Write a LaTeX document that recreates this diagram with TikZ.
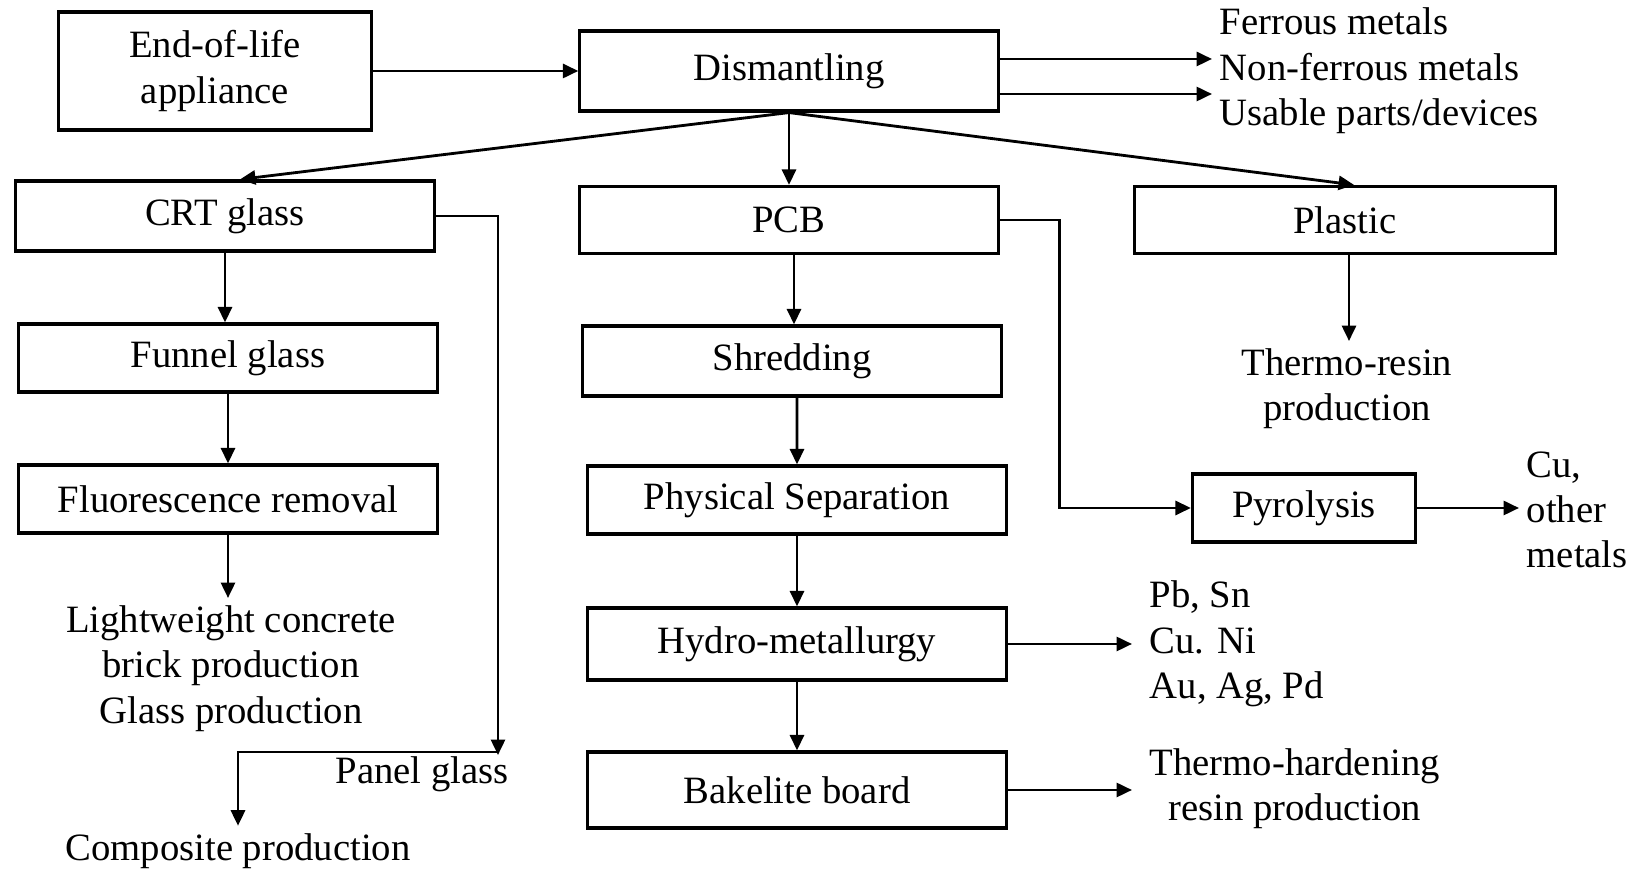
\documentclass[tikz,border=0pt]{standalone}
\usepackage{fontspec}
\setmainfont{Liberation Serif}
\usetikzlibrary{arrows.meta}
\begin{document}
\begin{tikzpicture}[x=0.01cm, y=-0.01cm,
        box/.style={rectangle, draw=black, line width=0.9pt, inner sep=2pt, align=center, font=\fontsize{11}{12.9}\selectfont},
        txt/.style={inner sep=2pt, font=\fontsize{11}{12.9}\selectfont},
        flow/.style={-{Triangle[length=4.4pt, width=4pt]}, line width=0.8pt},]

        \useasboundingbox (0,0) rectangle (1633,871);

        % Boxes
        \node[box, minimum width=3.13cm, minimum height=1.18cm] (eol) at (215,71) {End-of-life\\appliance};
        \node[box, minimum width=4.18cm, minimum height=0.80cm] (dism) at (789,71) {Dismantling};
        \node[box, minimum width=4.19cm, minimum height=0.70cm] (crt) at (225,216) {CRT glass};
        \node[box, minimum width=4.18cm, minimum height=0.67cm] (pcb) at (789,220) {PCB};
        \node[box, minimum width=4.20cm, minimum height=0.67cm] (plastic) at (1345,220) {Plastic};
        \node[box, minimum width=4.18cm, minimum height=0.68cm] (funnel) at (228,358) {Funnel glass};
        \node[box, minimum width=4.19cm, minimum height=0.70cm] (shred) at (792,361) {Shredding};
        \node[box, minimum width=4.18cm, minimum height=0.68cm] (fluor) at (228,499) {Fluorescence removal};
        \node[box, minimum width=4.19cm, minimum height=0.68cm] (phys) at (797,500) {Physical Separation};
        \node[box, minimum width=2.23cm, minimum height=0.68cm] (pyro) at (1304,508) {Pyrolysis};
        \node[box, minimum width=4.19cm, minimum height=0.72cm] (hydro) at (797,644) {Hydro-metallurgy};
        \node[box, minimum width=4.19cm, minimum height=0.76cm] (bake) at (797,790) {Bakelite board};

        %Products
        \node[txt, anchor=west, align=left] (metals) at (1212,71) {Ferrous metals\\Non-ferrous metals\\Usable parts/devices};
        \node[txt, anchor=north, align=center] (light) at (231,598) {Lightweight concrete\\brick production\\Glass production};
        \node[txt] (panel) at (422,774) {Panel glass};
        \node[txt] (comp) at (238,851) {Composite production};
        \node[txt, align=center] (resin) at (1347,389) {Thermo-resin\\production};
        \node[txt, anchor=west, align=left] (cu) at (1519,510) {Cu,\\other\\metals};
        \node[txt, anchor=west, align=left] (pb) at (1142,644) {Pb, Sn\\Cu. Ni\\Au, Ag, Pd};
        \node[txt, anchor=west, align=center] (hard) at (1142,789) {Thermo-hardening\\resin production};
        \coordinate (pgc) at (498,755);

        %Links
        \draw[flow] (eol.east) -- (eol.east -| dism.west);
        \draw[flow] ([yshift=0.12cm]dism.east) -- ([yshift=0.12cm]dism.east -| metals.west);
        \draw[flow] ([yshift=-0.23cm]dism.east) -- ([yshift=-0.23cm]dism.east -| metals.west);
        \draw[flow] (dism.south) -- ([xshift=0.15cm]crt.north);
        \draw[flow] (dism.south) -- (pcb.north);
        \draw[flow] (dism.south) -- ([xshift=0.09cm]plastic.north);

        \draw[flow] (crt.south) -- (crt.south |- funnel.north);
        \draw[flow] (funnel.south) -- (fluor.north);
        \draw[flow] (fluor.south) -- (fluor.south |- light.north);
        \draw[flow] (crt.east) -| (pgc);
        \draw[flow] ([yshift=0.03cm]pgc) -| (comp.north);

        \draw[flow] ([xshift=0.05cm]pcb.south) -- ([xshift=0.05cm]pcb.south |- shred.north);
        \draw[flow] ([xshift=0.05cm]shred.south) -- (phys.north);
        \draw[flow] (phys.south) -- (hydro.north);
        \draw[flow] (hydro.south) -- (bake.north);
        \draw[flow] (pcb.east) -| ([xshift=-1.31cm]pyro.west) -- (pyro.west);

        \draw[flow] ([xshift=0.04cm]plastic.south) -- ([xshift=0.04cm]plastic.south |- resin.north);
        \draw[flow] (pyro.east) -- (pyro.east -| cu.west);
        \draw[flow] (hydro.east) -- ([xshift=-0.1cm]hydro.east -| pb.west);
        \draw[flow] (bake.east) -- ([xshift=-0.1cm]bake.east -| hard.west);
    \end{tikzpicture}
\end{document}
